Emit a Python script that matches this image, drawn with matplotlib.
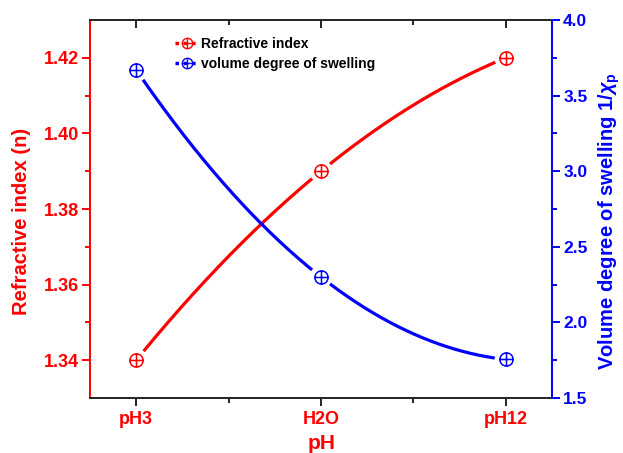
import numpy as np
import matplotlib
matplotlib.use("Agg")
import matplotlib.pyplot as plt
from matplotlib.path import Path
from matplotlib.lines import Line2D

plt.rcParams['font.family'] = ['Liberation Sans', 'DejaVu Sans']
plt.rcParams['font.weight'] = 'bold'
plt.rcParams['mathtext.fontset'] = 'custom'
plt.rcParams['mathtext.rm'] = 'Liberation Sans:bold'
plt.rcParams['mathtext.it'] = 'Liberation Sans:italic:bold'

# Data
categories = ["pH3", "H2O", "pH12"]
refractive_index = [1.34, 1.39, 1.42]
swelling_degree = [3.67, 2.30, 1.755]

RED = "#ff0000"
BLUE = "#0000ff"

# circle-with-cross marker
circ = Path.unit_circle()
cross = Path([(-1, 0), (1, 0), (0, -1), (0, 1)],
             [Path.MOVETO, Path.LINETO, Path.MOVETO, Path.LINETO])
oplus = Path.make_compound_path(circ, cross)

fig = plt.figure(figsize=(6.23, 4.53), dpi=100)
ax = fig.add_axes([0.1445, 0.1214, 0.7416, 0.8344])
ax2 = ax.twinx()

x = np.arange(len(categories))
ax.set_xlim(-0.25, 2.25)
ax.set_ylim(1.33, 1.43)
ax2.set_ylim(1.5, 4.0)


def smooth_with_gaps(axis, xs, ys, gap_px=11):
    """Quadratic curve through the points, cut out around each marker."""
    coef = np.polyfit(xs, ys, len(xs) - 1)
    xd = np.linspace(xs[0], xs[-1], 600)
    yd = np.polyval(coef, xd)
    disp = axis.transData.transform(np.column_stack([xd, yd]))
    pts = axis.transData.transform(np.column_stack([xs, ys]))
    mask = np.zeros(len(xd), bool)
    for p in pts:
        mask |= np.hypot(disp[:, 0] - p[0], disp[:, 1] - p[1]) < gap_px
    yd = yd.copy()
    yd[mask] = np.nan
    return xd, yd


xr, yr = smooth_with_gaps(ax, x, np.array(refractive_index))
ax.plot(xr, yr, color=RED, lw=2.3, solid_capstyle='butt')
ax.plot(x, refractive_index, linestyle='none', marker=oplus, ms=9.5,
        mfc='none', mec=RED, mew=1.1)

xb, yb = smooth_with_gaps(ax2, x, np.array(swelling_degree))
ax2.plot(xb, yb, color=BLUE, lw=2.3, solid_capstyle='butt')
ax2.plot(x, swelling_degree, linestyle='none', marker=oplus, ms=9.5,
         mfc='none', mec=BLUE, mew=1.1)

# x axis
ax.set_xticks(x)
ax.set_xticklabels(categories, color=RED, fontsize=13, fontweight='bold')
ax.set_xticks([0.5, 1.5], minor=True)
ax.set_xlabel("pH", color=RED, fontsize=15, fontweight='bold', labelpad=5)

# left axis
ax.set_yticks([1.34, 1.36, 1.38, 1.40, 1.42])
ax.set_yticklabels(["1.34", "1.36", "1.38", "1.40", "1.42"])
ax.set_yticks([1.35, 1.37, 1.39, 1.41], minor=True)
ax.set_ylabel("Refractive index (n)", color=RED, fontsize=14.5,
              fontweight='bold')
ax.yaxis.set_label_coords(-0.128, 0.468)

# right axis
ax2.set_yticks([1.5, 2.0, 2.5, 3.0, 3.5, 4.0])
ax2.set_yticklabels(["1.5", "2.0", "2.5", "3.0", "3.5", "4.0"])
ax2.set_yticks([1.75, 2.25, 2.75, 3.25, 3.75], minor=True)
ax2.set_ylabel(r"Volume degree of swelling 1/$\chi_{\mathrm{p}}$",
               color=BLUE, fontsize=14.5, fontweight='bold')
ax2.yaxis.set_label_coords(1.097, 0.468)

for a in (ax, ax2):
    for s in a.spines.values():
        s.set_linewidth(1.4)
ax.spines['left'].set_color(RED)
ax.spines['right'].set_visible(False)
ax2.spines['left'].set_visible(False)
ax2.spines['right'].set_color(BLUE)
ax.spines['bottom'].set_color('#222222')
ax.spines['top'].set_color('#222222')
ax2.spines['bottom'].set_visible(False)
ax2.spines['top'].set_visible(False)

ax.tick_params(axis='x', which='major', direction='out', length=6, width=1.4,
               color='#222222', pad=3, top=True)
ax.tick_params(axis='x', which='minor', direction='out', length=3.5, width=1.4,
               color='#222222', top=True)
ax.tick_params(axis='y', which='major', direction='out', length=6, width=1.4,
               color=RED, labelcolor=RED, labelsize=13, pad=2)
ax.tick_params(axis='y', which='minor', direction='out', length=3.5,
               width=1.4, color=RED)
ax2.tick_params(axis='y', which='major', direction='out', length=6, width=1.4,
                color=BLUE, labelcolor=BLUE, labelsize=12.5, pad=2)
ax2.tick_params(axis='y', which='minor', direction='out', length=3.5,
                width=1.4, color=BLUE)
# top ticks point inward
for t in ax.xaxis.get_major_ticks() + ax.xaxis.get_minor_ticks():
    t.tick2line.set_marker(matplotlib.markers.TICKDOWN)
for lab in ax.get_yticklabels() + ax2.get_yticklabels() + ax.get_xticklabels():
    lab.set_fontweight('bold')

handles = [
    Line2D([], [], color=RED, lw=2.5, dashes=(1.0, 1.4), marker=oplus,
           ms=7.5, mfc='none', mec=RED, mew=1.0),
    Line2D([], [], color=BLUE, lw=2.5, dashes=(1.0, 1.4), marker=oplus,
           ms=7.5, mfc='none', mec=BLUE, mew=1.0),
]
ax.legend(handles, ["Refractive index", "volume degree of swelling"],
          loc='upper left', bbox_to_anchor=(0.185, 0.955), frameon=False,
          prop={'size': 10, 'weight': 'bold'}, handlelength=1.6,
          handletextpad=0.25, labelspacing=0.4, borderpad=0,
          borderaxespad=0)

fig.savefig("out.png", dpi=100)
